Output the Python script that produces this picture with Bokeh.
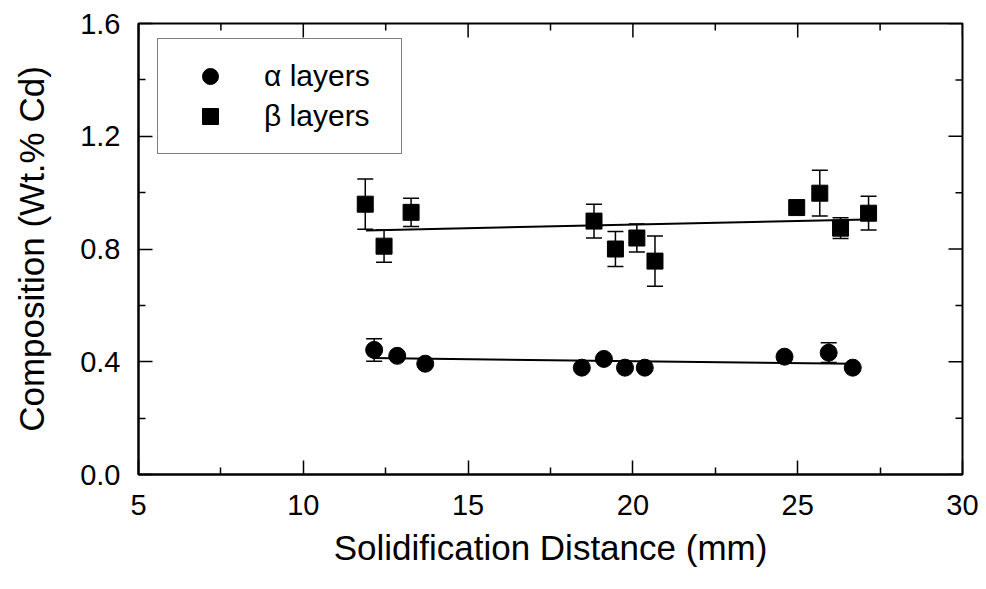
from bokeh.plotting import figure
from bokeh.models import (ColumnDataSource, Whisker, TeeHead, Legend, LegendItem,
                          FixedTicker, Range1d, PrintfTickFormatter)
from bokeh.embed import file_html
from bokeh.resources import INLINE

# ---- data ----
alpha_x = [12.15, 12.85, 13.7, 18.45, 19.12, 19.76, 20.36, 24.6, 25.94, 26.67]
alpha_y = [0.442, 0.421, 0.393, 0.379, 0.410, 0.379, 0.379, 0.418, 0.432, 0.379]
alpha_err = [0.040, 0.0, 0.0, 0.0, 0.0, 0.0, 0.0, 0.0, 0.035, 0.0]

beta_x = [11.88, 12.45, 13.27, 18.82, 19.47, 20.12, 20.67, 24.97, 25.67, 26.3, 27.15]
beta_y = [0.959, 0.810, 0.930, 0.899, 0.800, 0.839, 0.757, 0.947, 0.998, 0.874, 0.927]
beta_err = [0.089, 0.057, 0.050, 0.060, 0.062, 0.050, 0.089, 0.0, 0.081, 0.037, 0.060]

alpha_fit_x = [12.1, 26.7]
alpha_fit_y = [0.413, 0.393]
beta_fit_x = [11.9, 27.1]
beta_fit_y = [0.866, 0.905]

x_ticks = [5, 10, 15, 20, 25, 30]
y_ticks = [0.0, 0.4, 0.8, 1.2, 1.6]
x_minor = [7.5, 12.5, 17.5, 22.5, 27.5]
y_minor = [0.2, 0.6, 1.0, 1.4]

FONT = "Liberation Sans"
X0, X1 = 5, 30
Y0, Y1 = 0.0, 1.6
FRAME_W, FRAME_H = 824, 450
MAJOR_PX, MINOR_PX = 14, 7

p = figure(width=986, height=589, output_backend="svg", toolbar_location=None,
           x_range=Range1d(X0, X1), y_range=Range1d(Y0, Y1),
           min_border_left=138, min_border_right=24, min_border_top=23,
           min_border_bottom=115, x_axis_label="Solidification Distance (mm)",
           y_axis_label="Composition (Wt.% Cd)")
p.background_fill_color = "white"
p.border_fill_color = "white"
p.outline_line_color = "black"
p.outline_line_width = 2
p.xgrid.visible = False
p.ygrid.visible = False

def style_axis(ax, ticks, minor):
    ax.ticker = FixedTicker(ticks=ticks, minor_ticks=minor)
    ax.axis_line_color = "black"
    ax.axis_line_width = 2
    ax.major_tick_in = MAJOR_PX
    ax.major_tick_out = 0
    ax.minor_tick_in = MINOR_PX
    ax.minor_tick_out = 0
    ax.major_tick_line_width = 1.5
    ax.minor_tick_line_width = 1.5
    ax.major_tick_line_color = "black"
    ax.minor_tick_line_color = "black"
    ax.major_label_text_font = FONT
    ax.major_label_text_color = "black"
    ax.axis_label_text_font = FONT
    ax.axis_label_text_font_style = "normal"
    ax.axis_label_text_color = "black"

xa = p.xaxis[0]
style_axis(xa, x_ticks, x_minor)
xa.formatter = PrintfTickFormatter(format="%d")
xa.major_label_text_font_size = "29px"
xa.major_label_standoff = 20
xa.axis_label_text_font_size = "35px"
xa.axis_label_standoff = 10

ya = p.yaxis[0]
style_axis(ya, y_ticks, y_minor)
ya.formatter = PrintfTickFormatter(format="%.1f")
ya.major_label_text_font_size = "29px"
ya.major_label_standoff = 18
ya.axis_label_text_font_size = "35px"
ya.axis_label_standoff = 26

# ---- mirrored inward ticks on top and right frame edges (no labels) ----
dy_per_px = (Y1 - Y0) / FRAME_H
dx_per_px = (X1 - X0) / FRAME_W
for ticks, px in [(x_ticks, MAJOR_PX), (x_minor, MINOR_PX)]:
    p.segment(x0=ticks, y0=[Y1] * len(ticks), x1=ticks,
              y1=[Y1 - px * dy_per_px] * len(ticks), line_color="black", line_width=1.5)
for ticks, px in [(y_ticks, MAJOR_PX), (y_minor, MINOR_PX)]:
    p.segment(x0=[X1] * len(ticks), y0=ticks, x1=[X1 - px * dx_per_px] * len(ticks),
              y1=ticks, line_color="black", line_width=1.5)

# ---- fit lines ----
p.line(alpha_fit_x, alpha_fit_y, line_color="black", line_width=2)
p.line(beta_fit_x, beta_fit_y, line_color="black", line_width=2)

# ---- error bars ----
def whisker_source(xs, ys, es):
    sel = [(x, y, e) for x, y, e in zip(xs, ys, es) if e > 0]
    return ColumnDataSource(dict(x=[s[0] for s in sel],
                                 lo=[s[1] - s[2] for s in sel],
                                 hi=[s[1] + s[2] for s in sel]))

for xs, ys, es in [(alpha_x, alpha_y, alpha_err), (beta_x, beta_y, beta_err)]:
    w = Whisker(source=whisker_source(xs, ys, es), base="x", lower="lo", upper="hi",
                line_color="black", line_width=1.5,
                upper_head=TeeHead(size=16, line_color="black", line_width=1.5),
                lower_head=TeeHead(size=16, line_color="black", line_width=1.5))
    p.add_layout(w)

# ---- markers ----
ra = p.scatter(alpha_x, alpha_y, marker="circle", size=17,
               fill_color="black", line_color="black")
rb = p.scatter(beta_x, beta_y, marker="square", size=16,
               fill_color="black", line_color="black")

legend = Legend(items=[LegendItem(label="\u03b1 layers", renderers=[ra]),
                       LegendItem(label="\u03b2 layers", renderers=[rb])],
                location=(19, 320))
legend.label_text_font = FONT
legend.label_text_font_size = "30px"
legend.label_text_color = "black"
legend.border_line_color = "black"
legend.border_line_width = 1
legend.background_fill_color = "white"
legend.background_fill_alpha = 1
legend.padding = 17
legend.spacing = 0
legend.glyph_width = 70
legend.glyph_height = 40
legend.label_height = 40
legend.label_width = 120
legend.label_standoff = 19
legend.margin = 0
p.add_layout(legend, "center")

open("out.html", "w").write(file_html(p, INLINE))
